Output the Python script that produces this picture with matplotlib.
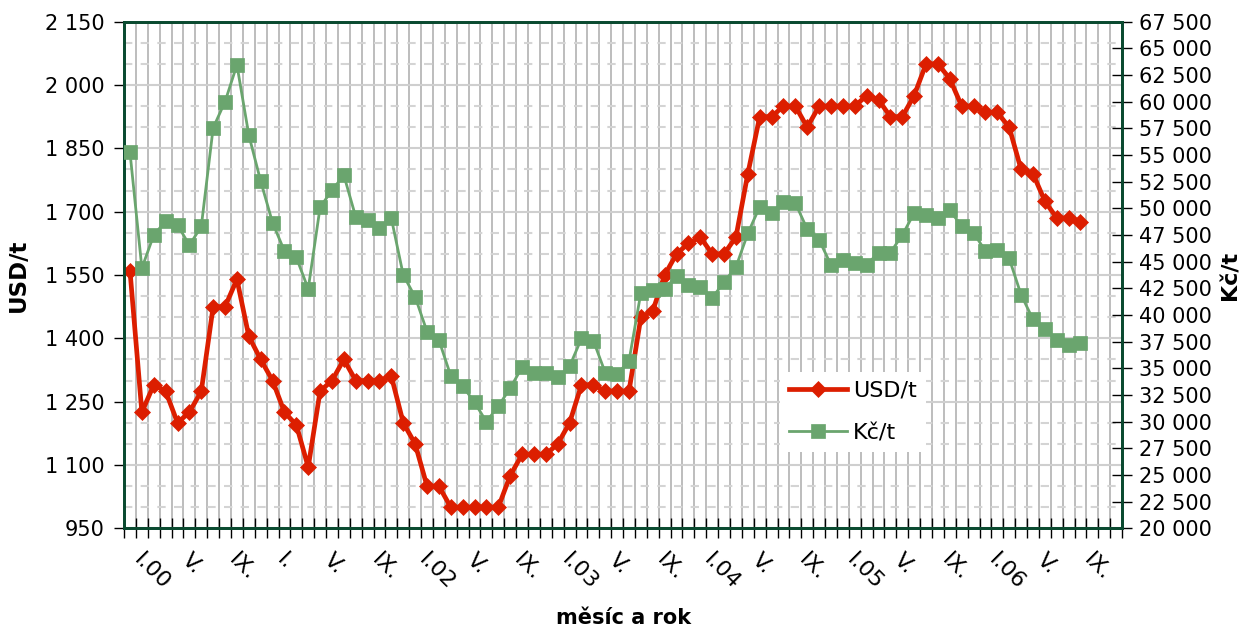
import numpy as np
import matplotlib
matplotlib.use("Agg")
import matplotlib.pyplot as plt
from matplotlib.ticker import MultipleLocator, FixedLocator, FuncFormatter, NullFormatter
from matplotlib.transforms import ScaledTranslation

# cena za tunu, mesicne I.2000 - IX.2006
usd_t = [1560, 1225, 1290, 1275, 1200, 1225, 1275, 1475, 1475, 1540,
         1405, 1350, 1300, 1225, 1195, 1095, 1275, 1300, 1350, 1300,
         1300, 1300, 1310, 1200, 1150, 1050, 1050, 1000, 1000, 1000,
         1000, 1000, 1075, 1125, 1125, 1125, 1150, 1200, 1290, 1290,
         1275, 1275, 1275, 1450, 1465, 1550, 1600, 1625, 1640, 1600,
         1600, 1640, 1790, 1925, 1925, 1950, 1950, 1900, 1950, 1950,
         1950, 1950, 1975, 1965, 1925, 1925, 1975, 2050, 2050, 2015,
         1950, 1950, 1935, 1935, 1900, 1800, 1790, 1725, 1685, 1685,
         1675]
kc_t = [55250, 44400, 47500, 48800, 48450, 46550, 48300, 57550, 60000, 63450,
        56875, 52550, 48650, 46000, 45400, 42450, 50100, 51700, 53100, 49200,
        48900, 48150, 49050, 43750, 41700, 38450, 37650, 34300, 33350, 31800,
        30000, 31450, 33150, 35100, 34600, 34600, 34150, 35200, 37800, 37600,
        34600, 34450, 35700, 42100, 42350, 42400, 43700, 42800, 42600, 41600,
        43100, 44500, 47650, 50150, 49550, 50600, 50500, 48050, 47050, 44700,
        45150, 44900, 44700, 45850, 45850, 47500, 49550, 49400, 49050, 49800,
        48350, 47700, 46000, 46100, 45300, 41900, 39600, 38650, 37700, 37200,
        37350]
n_months = 84  # I.2000 - XII.2006
month_labels = ["I.00", "V.", "IX.", "I.", "V.", "IX.", "I.02", "V.", "IX.",
                "I.03", "V.", "IX.", "I.04", "V.", "IX.", "I.05", "V.", "IX.",
                "I.06", "V.", "IX."]

plt.rcParams["font.family"] = "DejaVu Sans"
fs = 15
spine_col = "#0a4a30"
red = "#dc1e00"
green = "#6aa56e"

fig = plt.figure(figsize=(12.48, 6.29), dpi=100)
ax = fig.add_axes([0.0994, 0.160, 0.7997, 0.8055])
ax2 = ax.twinx()

x = np.arange(len(usd_t))
ax.plot(x, usd_t, color=red, lw=3.4, marker="D", ms=8.5, mec=red, mew=0.5,
        label="USD/t", zorder=3)
ax2.plot(x, kc_t, color=green, lw=2, marker="s", ms=9.5, mec=green, mew=0.5,
         label="Kč/t", zorder=3)

# osy
ax.set_xlim(-0.5, n_months - 0.5)
ax.set_ylim(950, 2150)
ax2.set_ylim(20000, 67500)

thousands = FuncFormatter(lambda v, p: f"{int(round(v)):,}".replace(",", " "))
ax.yaxis.set_major_locator(FixedLocator(np.arange(950, 2151, 150)))
ax.yaxis.set_minor_locator(FixedLocator(np.arange(950, 2151, 50)))
ax.yaxis.set_major_formatter(thousands)
ax2.yaxis.set_major_locator(MultipleLocator(2500))
ax2.yaxis.set_major_formatter(thousands)

ax.xaxis.set_major_locator(FixedLocator(np.arange(n_months + 1) - 0.5))
ax.xaxis.set_major_formatter(NullFormatter())
ax.xaxis.set_minor_locator(FixedLocator(np.arange(0, 4 * len(month_labels), 4)))
ax.set_xticklabels(month_labels, minor=True, rotation=-45, ha="left", va="top",
                   fontsize=16)
off = ScaledTranslation(0.06, 0, fig.dpi_scale_trans)
for lab in ax.get_xticklabels(minor=True):
    lab.set_transform(lab.get_transform() + off)

ax.tick_params(axis="x", which="major", direction="inout", length=14, width=1, color="black")
ax.tick_params(axis="x", which="minor", length=0, pad=15)
ax.tick_params(axis="y", which="major", direction="out", length=7, width=1,
               labelsize=fs, pad=7)
ax.tick_params(axis="y", which="minor", length=0)
ax2.tick_params(axis="y", direction="inout", length=14, width=1, labelsize=fs, pad=5)

# mrizka
ax.grid(True, axis="y", which="major", color="#cfcfcf", lw=1.5, ls="-")
ax.grid(True, axis="y", which="minor", color="#d4d4d4", lw=1.5, ls=(0, (4, 4)))
ax.grid(True, axis="x", which="major", color="#ababab", lw=1.1)
ax.set_axisbelow(True)

for a in (ax, ax2):
    for s in a.spines.values():
        s.set_color(spine_col)
        s.set_linewidth(2)

ax.set_ylabel("USD/t", fontsize=16.5, fontweight="bold")
ax2.set_ylabel("Kč/t", fontsize=16, fontweight="bold")
ax.set_xlabel("měsíc a rok", fontsize=fs, fontweight="bold")
ax.yaxis.set_label_coords(-0.094, 0.5)
ax2.yaxis.set_label_coords(1.099, 0.5)
ax.xaxis.set_label_coords(0.5, -0.157)

h1, l1 = ax.get_legend_handles_labels()
h2, l2 = ax2.get_legend_handles_labels()
leg = ax2.legend(h1 + h2, l1 + l2, loc="upper left",
                 bbox_to_anchor=(780 / 1248, 1 - 372 / 629),
                 bbox_transform=fig.transFigure, fontsize=16, frameon=True,
                 fancybox=False, edgecolor="none", facecolor="white", framealpha=1,
                 handlelength=2.6, handletextpad=0.3, labelspacing=1.0,
                 borderpad=0.4, borderaxespad=0, numpoints=1)

fig.savefig("out.png", dpi=100)
